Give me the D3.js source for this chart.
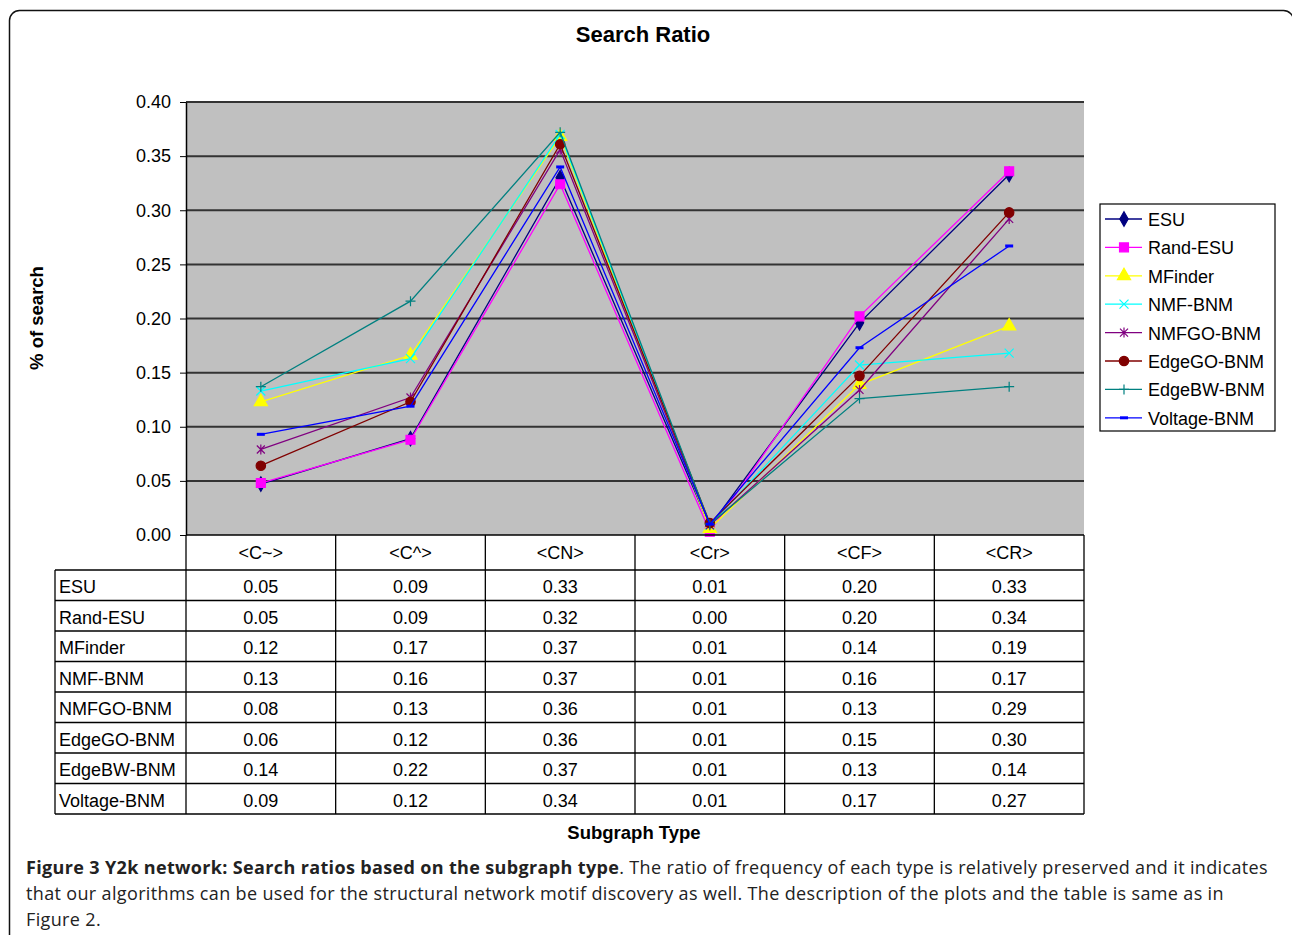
<!DOCTYPE html>
<html>
<head>
<meta charset="utf-8">
<script src="https://d3js.org/d3.v7.min.js"></script>
<style>
  body { margin: 0; background: #fff; }
  #wrap { position: relative; width: 1292px; height: 935px; overflow: hidden; }
  svg { position: absolute; left: 0; top: 0; }
  .caption {
    position: absolute; left: 26px; top: 854px; width: 1262px;
    font-family: 'Open Sans', sans-serif; font-size: 18px; letter-spacing: 0.35px;
    line-height: 26px; color: #222; white-space: nowrap;
  }
  .caption b { font-weight: 700; }
</style>
</head>
<body>
<div id="wrap"></div>
<script>
// categories (subgraph types)
const categories = ['<C~>', '<C^>', '<CN>', '<Cr>', '<CF>', '<CR>']
const yTicks = [0, 0.05, 0.10, 0.15, 0.20, 0.25, 0.30, 0.35, 0.40]

// search ratio per algorithm
const esu = [0.047, 0.089, 0.330, 0.008, 0.196, 0.333]
const randEsu = [0.048, 0.088, 0.324, 0.003, 0.202, 0.336]
const mfinder = [0.123, 0.166, 0.368, 0.006, 0.139, 0.193]
const nmfBnm = [0.133, 0.163, 0.370, 0.009, 0.157, 0.168]
const nmfgoBnm = [0.079, 0.127, 0.356, 0.009, 0.134, 0.292]
const edgegoBnm = [0.064, 0.123, 0.361, 0.011, 0.147, 0.298]
const edgebwBnm = [0.137, 0.216, 0.372, 0.010, 0.126, 0.137]
const voltageBnm = [0.093, 0.119, 0.340, 0.010, 0.173, 0.267]

const seriesNames = ['ESU', 'Rand-ESU', 'MFinder', 'NMF-BNM', 'NMFGO-BNM', 'EdgeGO-BNM', 'EdgeBW-BNM', 'Voltage-BNM']
const seriesValues = [esu, randEsu, mfinder, nmfBnm, nmfgoBnm, edgegoBnm, edgebwBnm, voltageBnm]
const seriesColors = ['#000080', '#ff00ff', '#ffff00', '#00ffff', '#800080', '#800000', '#008080', '#0000ff']
const seriesMarkers = ['diamond', 'square', 'triangle', 'x', 'star', 'circle', 'plus', 'dash']

const series = seriesNames.map((name, i) => ({
  name, values: seriesValues[i], color: seriesColors[i], marker: seriesMarkers[i]
}))

const W = 1292
const H = 935
const plot = { left: 186, right: 1084, top: 102, bottom: 535 }
const rowH = 30.5
const tableTop = 570
const labelLeft = 55
const font = "'Liberation Sans', Arial, sans-serif"

const svg = d3.select('#wrap').append('svg')
  .attr('width', W)
  .attr('height', H)
  .style('font-family', font)

// outer frame
svg.append('rect')
  .attr('x', 9.5).attr('y', 10.5)
  .attr('width', 1284).attr('height', 980)
  .attr('rx', 10)
  .attr('fill', 'none')
  .attr('stroke', '#111')
  .attr('stroke-width', 1.5)

const xBand = d3.scaleBand().domain(categories).range([plot.left, plot.right])
const xScale = (c) => xBand(c) + xBand.bandwidth() / 2
const yScale = d3.scaleLinear().domain([0, 0.4]).range([plot.bottom, plot.top])

// title
svg.append('text')
  .attr('x', 643).attr('y', 42)
  .attr('text-anchor', 'middle')
  .attr('font-size', 22).attr('font-weight', 'bold')
  .text('Search Ratio')

// plot background
svg.append('rect')
  .attr('x', plot.left).attr('y', plot.top)
  .attr('width', plot.right - plot.left).attr('height', plot.bottom - plot.top)
  .attr('fill', '#c0c0c0')

// gridlines
svg.append('g')
  .selectAll('line')
  .data(yTicks.filter(d => d > 0))
  .join('line')
  .attr('x1', plot.left).attr('x2', plot.right)
  .attr('y1', d => yScale(d)).attr('y2', d => yScale(d))
  .attr('stroke', '#333')
  .attr('stroke-width', 2)

// y axis
const yAxis = svg.append('g')
  .attr('transform', `translate(${plot.left},0)`)
  .call(d3.axisLeft(yScale).tickValues(yTicks).tickFormat(d3.format('.2f')).tickSize(6).tickPadding(9).tickSizeOuter(0))
yAxis.select('.domain').attr('stroke', '#000').attr('stroke-width', 1.5)
yAxis.selectAll('.tick line').attr('stroke', '#000')
yAxis.selectAll('.tick text').attr('font-size', 18).attr('font-family', font).attr('fill', '#000')

svg.append('text')
  .attr('transform', 'translate(43,318) rotate(-90)')
  .attr('text-anchor', 'middle')
  .attr('font-size', 18.5).attr('font-weight', 'bold')
  .text('% of search')

// markers
function markerPath (type) {
  switch (type) {
    case 'diamond': return d3.symbol(d3.symbolDiamond, 60)()
    case 'square': return d3.symbol(d3.symbolSquare, 80)()
    case 'triangle': return d3.symbol(d3.symbolTriangle, 75)()
    case 'circle': return d3.symbol(d3.symbolCircle, 70)()
    case 'x': return 'M-4.5,-4.5L4.5,4.5M-4.5,4.5L4.5,-4.5'
    case 'star': return 'M-4,-4L4,4M-4,4L4,-4M0,-5L0,5'
    case 'plus': return 'M-5,0L5,0M0,-5L0,5'
    case 'dash': return 'M-4,0L4,0'
  }
}
const filled = (t) => ['diamond', 'square', 'triangle', 'circle'].includes(t)

const line = d3.line()
  .x((d, i) => xScale(categories[i]))
  .y(d => yScale(d))

const seriesG = svg.append('g').selectAll('g').data(series).join('g')

seriesG.append('path')
  .attr('d', d => line(d.values))
  .attr('fill', 'none')
  .attr('stroke', d => d.color)
  .attr('stroke-width', 1.3)

seriesG.each(function (s) {
  d3.select(this).selectAll('path.mk')
    .data(s.values)
    .join('path')
    .attr('class', 'mk')
    .attr('transform', (d, i) => `translate(${xScale(categories[i])},${yScale(d)})`)
    .attr('d', markerPath(s.marker))
    .attr('fill', filled(s.marker) ? s.color : 'none')
    .attr('stroke', s.color)
    .attr('stroke-width', s.marker === 'dash' ? 3 : 1.2)
})

// data table
const table = svg.append('g')
const tableBottom = tableTop + rowH * series.length
const colEdges = categories.map(c => xBand(c)).concat([plot.right])

table.selectAll('line.v')
  .data(colEdges)
  .join('line')
  .attr('class', 'v')
  .attr('x1', d => d).attr('x2', d => d)
  .attr('y1', plot.bottom).attr('y2', tableBottom)
  .attr('stroke', '#000').attr('stroke-width', 1.3)

table.append('line')
  .attr('x1', labelLeft).attr('x2', labelLeft)
  .attr('y1', tableTop).attr('y2', tableBottom)
  .attr('stroke', '#000').attr('stroke-width', 1.3)

table.append('line')
  .attr('x1', plot.left).attr('x2', plot.right)
  .attr('y1', plot.bottom).attr('y2', plot.bottom)
  .attr('stroke', '#000').attr('stroke-width', 1.5)

table.selectAll('line.h')
  .data(d3.range(series.length + 1))
  .join('line')
  .attr('class', 'h')
  .attr('x1', labelLeft).attr('x2', plot.right)
  .attr('y1', i => tableTop + i * rowH).attr('y2', i => tableTop + i * rowH)
  .attr('stroke', '#000').attr('stroke-width', 1.3)

table.selectAll('text.head')
  .data(categories)
  .join('text')
  .attr('class', 'head')
  .attr('x', d => xScale(d))
  .attr('y', (plot.bottom + tableTop) / 2 + 6)
  .attr('text-anchor', 'middle')
  .attr('font-size', 18)
  .text(d => d)

const rows = table.selectAll('g.row').data(series).join('g')
  .attr('class', 'row')
  .attr('transform', (d, i) => `translate(0,${tableTop + i * rowH + rowH / 2 + 8})`)

rows.append('text')
  .attr('x', labelLeft + 4)
  .attr('font-size', 18)
  .text(d => d.name)

rows.selectAll('text.val')
  .data(d => d.values)
  .join('text')
  .attr('class', 'val')
  .attr('x', (d, i) => xScale(categories[i]))
  .attr('text-anchor', 'middle')
  .attr('font-size', 18)
  .text(d => d3.format('.2f')(d))

svg.append('text')
  .attr('x', 634).attr('y', 839)
  .attr('text-anchor', 'middle')
  .attr('font-size', 18.5).attr('font-weight', 'bold')
  .text('Subgraph Type')

// legend
const legend = svg.append('g').attr('transform', 'translate(1100,204)')
legend.append('rect')
  .attr('width', 175).attr('height', 227)
  .attr('fill', '#fff').attr('stroke', '#000').attr('stroke-width', 1.2)

const items = legend.selectAll('g.item').data(series).join('g')
  .attr('class', 'item')
  .attr('transform', (d, i) => `translate(0,${15 + i * 28.4})`)

items.append('line')
  .attr('x1', 5).attr('x2', 42)
  .attr('stroke', d => d.color).attr('stroke-width', 1.3)
items.append('path')
  .attr('transform', 'translate(24,0)')
  .attr('d', d => markerPath(d.marker))
  .attr('fill', d => filled(d.marker) ? d.color : 'none')
  .attr('stroke', d => d.color)
  .attr('stroke-width', d => d.marker === 'dash' ? 3 : 1.2)
items.append('text')
  .attr('x', 48).attr('y', 7)
  .attr('font-size', 18)
  .text(d => d.name)

// caption
d3.select('#wrap').append('div')
  .attr('class', 'caption')
  .html('<b>Figure 3 Y2k network: Search ratios based on the subgraph type</b>. The ratio of frequency of each type is relatively preserved and it indicates<br>' +
    'that our algorithms can be used for the structural network motif discovery as well. The description of the plots and the table is same as in<br>' +
    'Figure 2.')
</script>
</body>
</html>
